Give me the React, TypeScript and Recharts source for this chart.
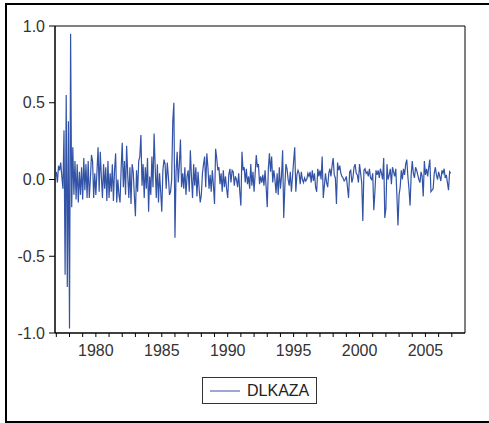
import React from 'react'
import {
  LineChart,
  Line,
  XAxis,
  YAxis,
  ReferenceArea,
  Legend
} from 'recharts'

const START_YEAR = 1977

// monthly values, 1977M01 .. 2006M12
const DLKAZA = [
  // 1977
  0.05, -0.02, 0.09, 0.06, 0.11, 0.02, -0.06, 0.32, -0.62, 0.55, -0.70, 0.38,
  // 1978
  -0.97, 0.95, -0.18, 0.21, -0.10, 0.12, -0.13, 0.10, -0.15, 0.05, -0.10, 0.08,
  // 1979
  -0.13, 0.14, -0.07, 0.10, -0.12, 0.12, -0.12, 0.00, 0.16, 0.12, -0.12, 0.04,
  // 1980
  -0.10, 0.05, 0.21, -0.08, 0.18, 0.02, -0.12, 0.10, -0.06, 0.08, -0.14, 0.12,
  // 1981
  -0.12, 0.04, -0.08, 0.10, -0.14, 0.06, 0.17, -0.15, 0.00, -0.10, -0.15, 0.07,
  // 1982
  0.24, -0.05, 0.12, -0.10, 0.22, 0.03, -0.12, 0.08, -0.16, 0.10, 0.05, -0.10,
  // 1983
  -0.24, 0.06, -0.08, 0.12, 0.15, 0.29, -0.04, 0.10, -0.12, 0.08, -0.06, 0.14,
  // 1984
  -0.21, 0.02, -0.10, 0.15, -0.05, 0.30, 0.08, -0.12, 0.10, -0.15, 0.04, -0.08,
  // 1985
  -0.21, 0.06, 0.13, 0.10, -0.06, 0.11, 0.02, -0.10, -0.08, 0.00, 0.38, 0.50,
  // 1986
  -0.38, 0.05, 0.18, -0.02, 0.10, 0.26, -0.05, 0.04, -0.06, 0.08, -0.10, 0.02,
  // 1987
  0.06, -0.08, 0.19, 0.02, -0.12, 0.10, -0.04, 0.08, -0.11, 0.05, -0.06, -0.15,
  // 1988
  -0.10, 0.04, 0.10, 0.15, -0.05, 0.17, 0.08, -0.06, 0.03, -0.08, 0.06, -0.04,
  // 1989
  -0.16, 0.20, 0.14, 0.06, 0.08, -0.03, 0.04, -0.08, 0.06, -0.05, 0.02, -0.06,
  // 1990
  -0.12, 0.03, 0.07, -0.02, 0.06, 0.05, -0.04, 0.02, 0.00, -0.05, 0.04, -0.08,
  // 1991
  -0.17, 0.18, 0.06, 0.08, -0.02, 0.07, -0.03, 0.02, -0.06, 0.10, -0.04, 0.05,
  // 1992
  -0.08, 0.04, 0.16, 0.08, 0.10, -0.03, 0.02, -0.02, 0.03, -0.04, 0.06, -0.05,
  // 1993
  -0.18, 0.07, 0.17, 0.05, 0.15, -0.02, 0.06, 0.00, -0.09, 0.04, -0.10, 0.08,
  // 1994
  -0.06, 0.02, 0.19, -0.25, -0.05, 0.10, 0.07, 0.00, -0.04, 0.05, -0.08, 0.02,
  // 1995
  0.12, 0.21, -0.08, 0.03, 0.06, 0.04, -0.03, 0.05, 0.00, -0.02, 0.01, -0.01,
  // 1996
  0.00, 0.04, 0.02, 0.05, -0.02, 0.06, -0.01, 0.04, -0.05, -0.08, 0.07, 0.02,
  // 1997
  0.06, 0.00, 0.15, -0.12, -0.04, 0.04, -0.02, -0.05, 0.04, 0.07, 0.02, 0.09,
  // 1998
  0.14, 0.03, 0.01, -0.16, 0.11, 0.06, 0.09, 0.04, 0.02, 0.01, -0.01, 0.00,
  // 1999
  0.02, -0.05, -0.12, 0.05, 0.06, -0.02, 0.01, 0.08, 0.10, 0.04, 0.03, -0.02,
  // 2000
  0.10, 0.04, -0.02, -0.27, 0.06, 0.07, 0.04, 0.05, 0.02, 0.07, 0.01, 0.00,
  // 2001
  0.04, -0.20, -0.08, 0.06, 0.03, 0.06, 0.01, 0.07, 0.04, 0.00, 0.14, -0.25,
  // 2002
  -0.19, 0.10, 0.00, 0.03, 0.07, -0.03, 0.08, 0.05, 0.02, 0.07, -0.10, -0.30,
  // 2003
  -0.10, -0.05, 0.06, 0.00, 0.07, 0.03, 0.10, 0.13, 0.02, -0.06, -0.17, 0.03,
  // 2004
  0.12, 0.04, 0.01, 0.08, 0.06, 0.03, 0.00, -0.02, 0.05, 0.02, -0.11, 0.12,
  // 2005
  0.03, 0.07, 0.02, 0.08, 0.13, -0.08, -0.07, -0.06, 0.04, 0.08, 0.03, 0.00,
  // 2006
  0.05, 0.02, -0.01, 0.06, 0.04, 0.07, 0.01, 0.03, -0.02, -0.07, 0.05, 0.04
]

const YEAR_TICKS = [
  1977, 1978, 1979, 1980, 1981, 1982, 1983, 1984, 1985, 1986, 1987, 1988,
  1989, 1990, 1991, 1992, 1993, 1994, 1995, 1996, 1997, 1998, 1999, 2000,
  2001, 2002, 2003, 2004, 2005, 2006, 2007
]
const VALUE_TICKS = [-1, -0.5, 0, 0.5, 1]
const X_DOMAIN: [number, number] = [1976.9, 2008.0]
const Y_DOMAIN: [number, number] = [-1, 1]

const rows = DLKAZA.map((v, i) => ({ t: START_YEAR + i / 12, v }))

const FONT = '"Liberation Sans", Arial, sans-serif'
const LINE_COLOR = '#3353a6'

const LegendBox = () => (
  <div
    style={{
      width: 115,
      height: 27,
      boxSizing: 'border-box',
      border: '1px solid #333',
      background: '#fff',
      display: 'flex',
      alignItems: 'center',
      fontFamily: FONT,
      fontSize: 16,
      color: '#222'
    }}
  >
    <svg width={44} height={10} style={{ display: 'block' }}>
      <line x1={7} y1={5} x2={37} y2={5} stroke={LINE_COLOR} strokeWidth={1} />
    </svg>
    <span>DLKAZA</span>
  </div>
)

export default function App() {
  return (
    <div
      style={{
        position: 'fixed',
        left: 0,
        top: 0,
        width: 489,
        height: 423,
        overflow: 'hidden',
        background: '#fff'
      }}
    >
      <div
        style={{
          position: 'absolute',
          left: 5,
          top: 3,
          width: 600,
          height: 420,
          boxSizing: 'border-box',
          border: '2px solid #000'
        }}
      />
      <div style={{ position: 'absolute', left: 0, top: 0 }}>
        <LineChart
          width={489}
          height={423}
          data={rows}
          margin={{ top: 26, right: 24, bottom: 60, left: 0 }}
        >
          <XAxis
            dataKey="t"
            type="number"
            domain={X_DOMAIN}
            ticks={YEAR_TICKS}
            interval={0}
            height={30}
            tickSize={4}
            tickMargin={8}
            tickFormatter={(y: number) => (y % 5 === 0 ? String(y) : '')}
            stroke="#000"
            tick={{ fill: '#333', fontSize: 16, fontFamily: FONT }}
          />
          <YAxis
            type="number"
            domain={Y_DOMAIN}
            ticks={VALUE_TICKS}
            width={55}
            tickSize={6}
            tickMargin={4}
            tickFormatter={(v: number) => v.toFixed(1)}
            stroke="#000"
            tick={{ fill: '#333', fontSize: 16, fontFamily: FONT }}
          />
          <ReferenceArea
            x1={X_DOMAIN[0]}
            x2={X_DOMAIN[1]}
            y1={Y_DOMAIN[0]}
            y2={Y_DOMAIN[1]}
            fill="none"
            stroke="#000"
            strokeWidth={1}
          />
          <Legend
            layout="vertical"
            verticalAlign="middle"
            align="center"
            wrapperStyle={{ left: 202, top: 377, width: 115, height: 27 }}
            content={() => <LegendBox />}
          />
          <Line
            dataKey="v"
            type="linear"
            stroke={LINE_COLOR}
            strokeWidth={1.2}
            dot={false}
            isAnimationActive={false}
          />
        </LineChart>
      </div>
    </div>
  )
}
